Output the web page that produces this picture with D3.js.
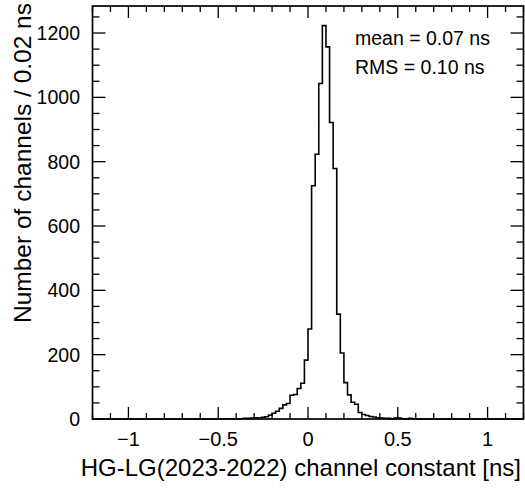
<!DOCTYPE html>
<html>
<head>
<meta charset="utf-8">
<script src="https://cdn.jsdelivr.net/npm/d3@7"></script>
<style>
  body { margin: 0; background: #fff; }
  text { font-family: "Liberation Sans", Arial, sans-serif; fill: #000; }
</style>
</head>
<body>
<script>
const width = 525;
const height = 491;
const margin = {left: 92.5, right: 1.5, top: 6, bottom: 72};

// histogram: bins of 0.02 ns, starting at firstEdge
const binWidth = 0.02;
const firstEdge = -0.50;
const counts = [
  0, 1, 1, 0, 0, 1, 1, 2, 2, 3,        // -0.50 .. -0.32
  4, 3, 5, 7, 12, 18, 24, 33, 44, 48,  // -0.30 .. -0.12
  74, 76, 95, 111, 183, 280,           // -0.10 .. -0.02
  725, 823, 1043, 1223, 1157, 922, 779, // 0.00 .. 0.12
  326, 205, 113, 75, 52, 46, 20, 14,   // 0.14 .. 0.28
  11, 8, 6, 4, 3, 2, 2, 1, 3, 3,       // 0.30 .. 0.48
  1, 0, 2, 1, 0, 0, 0, 0, 0, 0,        // 0.50 .. 0.68
  0, 0, 0, 1                           // 0.70 .. 0.76
];
const xDomain = [-1.2, 1.2];
const yDomain = [0, 1284];
const xTicks = [-1, -0.5, 0, 0.5, 1];
const yTicks = [0, 200, 400, 600, 800, 1000, 1200];
const statLines = ["mean = 0.07 ns", "RMS = 0.10 ns"];
const xTitle = "HG-LG(2023-2022) channel constant [ns]";
const yTitle = "Number of channels / 0.02 ns";

const svg = d3.select("body").append("svg")
    .attr("width", width)
    .attr("height", height);

const x = d3.scaleLinear().domain(xDomain).range([margin.left, width - margin.right]);
const y = d3.scaleLinear().domain(yDomain).range([height - margin.bottom, margin.top]);

// bins -> step path
const bins = counts.map((c, i) => ({x0: firstEdge + i * binWidth, x1: firstEdge + (i + 1) * binWidth, n: c}));
let pts = [[xDomain[0], 0], [bins[0].x0, 0]];
bins.forEach(b => { pts.push([b.x0, b.n]); pts.push([b.x1, b.n]); });
pts.push([bins[bins.length - 1].x1, 0]);
pts.push([xDomain[1], 0]);

svg.append("path")
    .attr("d", d3.line().x(d => x(d[0])).y(d => y(d[1]))(pts))
    .attr("fill", "none")
    .attr("stroke", "#000")
    .attr("stroke-width", 1.6)
    .attr("stroke-linejoin", "miter");

// ticks on all four sides, ROOT style
const tickFmt = d => d === 0 ? "0" : (d < 0 ? "\u2212" + Math.abs(d) : String(d));
const xMinor = d3.range(-12, 13).map(i => i / 10);
const yMinor = d3.range(0, 1284, 50);

const g = svg.append("g").attr("stroke", "#000").attr("stroke-width", 1.3);
const y0 = y(0), yTop = y(yDomain[1]);
const xL = x(xDomain[0]), xR = x(xDomain[1]);
xMinor.forEach(v => {
  const major = Math.abs(v * 2 - Math.round(v * 2)) < 1e-6;
  const len = major ? 12 : 6;
  g.append("line").attr("x1", x(v)).attr("x2", x(v)).attr("y1", y0).attr("y2", y0 - len);
  g.append("line").attr("x1", x(v)).attr("x2", x(v)).attr("y1", yTop).attr("y2", yTop + len);
});
yMinor.forEach(v => {
  const len = v % 200 === 0 ? 13 : 7;
  g.append("line").attr("x1", xL).attr("x2", xL + len).attr("y1", y(v)).attr("y2", y(v));
  g.append("line").attr("x1", xR).attr("x2", xR - len).attr("y1", y(v)).attr("y2", y(v));
});

// frame
svg.append("rect")
    .attr("x", xL).attr("y", yTop)
    .attr("width", xR - xL).attr("height", y0 - yTop)
    .attr("fill", "none").attr("stroke", "#000").attr("stroke-width", 1.7);

// tick labels
svg.append("g").selectAll("text").data(xTicks).enter().append("text")
    .attr("x", d => x(d))
    .attr("y", 446)
    .attr("text-anchor", "middle")
    .attr("font-size", 20)
    .text(tickFmt);

svg.append("g").selectAll("text").data(yTicks).enter().append("text")
    .attr("x", 80)
    .attr("y", d => y(d) + 7)
    .attr("text-anchor", "end")
    .attr("font-size", 19.5)
    .text(d => d);

// axis titles
svg.append("text")
    .attr("x", 521).attr("y", 476)
    .attr("text-anchor", "end")
    .attr("font-size", 24)
    .text(xTitle);

svg.append("text")
    .attr("transform", "translate(31,3) rotate(-90)")
    .attr("text-anchor", "end")
    .attr("font-size", 24.5)
    .text(yTitle);

// stats box text
svg.append("g").selectAll("text").data(statLines).enter().append("text")
    .attr("x", 355)
    .attr("y", (d, i) => 45 + i * 29)
    .attr("font-size", 19.5)
    .text(d => d);
</script>
</body>
</html>
